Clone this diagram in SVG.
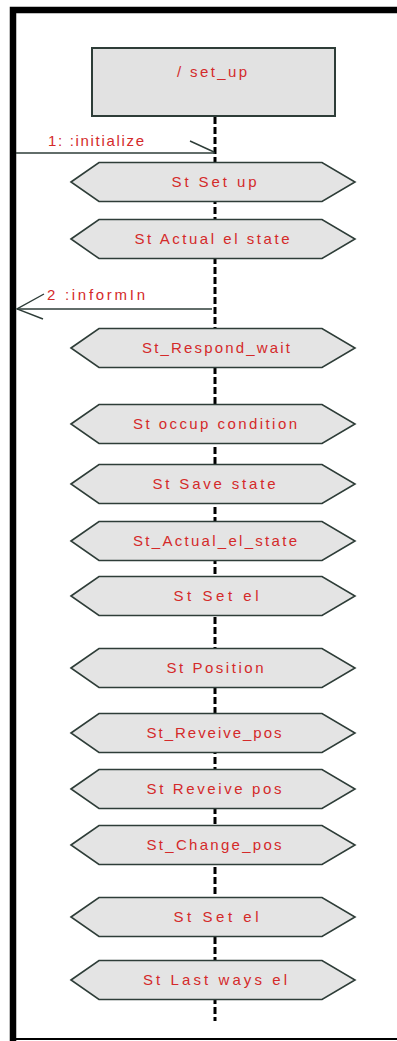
<svg xmlns="http://www.w3.org/2000/svg" width="397" height="1041" viewBox="0 0 397 1041">
  <style>
    .frame { fill: none; stroke: #000; }
    .box { fill: #e2e2e2; stroke: #2e3d38; stroke-width: 2; }
    .hex { fill: #e4e4e4; stroke: #2e3d38; stroke-width: 1.6; }
    .lbl { font-family: "Liberation Sans", Arial, sans-serif; font-size: 15px; fill: #d42a2a; text-anchor: middle; }
    .msg { font-family: "Liberation Sans", Arial, sans-serif; font-size: 15px; fill: #d42a2a; }
    .life { stroke: #000; stroke-width: 3; stroke-dasharray: 7 3; fill: none; }
    .line { stroke: #2e3d38; stroke-width: 1.4; fill: none; }
  </style>
  <defs>
    <polygon id="hexShape" points="-143,0 -115,-19.5 108,-19.5 141,0 108,19.5 -115,19.5"/>
  </defs>

  <rect width="397" height="1041" fill="#fff"/>

  <!-- outer frame -->
  <g id="frame">
    <path class="frame" d="M397,10 H13 V1041" stroke-width="6.5"/>
    <line class="frame" x1="10" y1="1039" x2="397" y2="1039" stroke-width="2"/>
  </g>

  <!-- lifeline and messages -->
  <g id="connectors">
    <line class="life" x1="215" y1="117" x2="215" y2="1021"/>
    <!-- 1: initialize -->
    <line class="line" x1="16" y1="153" x2="215" y2="153"/>
    <line class="line" x1="190" y1="141" x2="214" y2="152"/>
    <text class="msg" x="48" y="146" textLength="96" lengthAdjust="spacing">1:  :initialize</text>
    <!-- 2: informIn -->
    <line class="line" x1="212" y1="309" x2="17" y2="309"/>
    <polyline class="line" points="44,294 17,309 43,319"/>
    <text class="msg" x="47" y="300" textLength="98" lengthAdjust="spacing">2  :informIn</text>
  </g>

  <g id="setup_object">
    <rect class="box" x="92" y="48" width="243" height="68"/>
    <text class="lbl" x="212" y="77" textLength="70" lengthAdjust="spacing">/ set_up</text>
  </g>

  <g id="st_set_up" transform="translate(214,182)">
    <use href="#hexShape" class="hex"/>
    <text class="lbl" x="0" y="5" textLength="85" lengthAdjust="spacing">St Set up</text>
  </g>
  <g id="st_actual_el_state_1" transform="translate(214,239)">
    <use href="#hexShape" class="hex"/>
    <text class="lbl" x="-2" y="5" textLength="155" lengthAdjust="spacing">St Actual el state</text>
  </g>
  <g id="st_respond_wait" transform="translate(214,348)">
    <use href="#hexShape" class="hex"/>
    <text class="lbl" x="2" y="5" textLength="148" lengthAdjust="spacing">St_Respond_wait</text>
  </g>
  <g id="st_occup_condition" transform="translate(214,424)">
    <use href="#hexShape" class="hex"/>
    <text class="lbl" x="1" y="5" textLength="164" lengthAdjust="spacing">St occup condition</text>
  </g>
  <g id="st_save_state" transform="translate(214,484)">
    <use href="#hexShape" class="hex"/>
    <text class="lbl" x="0" y="5" textLength="123" lengthAdjust="spacing">St Save state</text>
  </g>
  <g id="st_actual_el_state_2" transform="translate(214,541)">
    <use href="#hexShape" class="hex"/>
    <text class="lbl" x="1" y="5" textLength="164" lengthAdjust="spacing">St_Actual_el_state</text>
  </g>
  <g id="st_set_el_1" transform="translate(214,596)">
    <use href="#hexShape" class="hex"/>
    <text class="lbl" x="2" y="5" textLength="85" lengthAdjust="spacing">St Set el</text>
  </g>
  <g id="st_position" transform="translate(214,668)">
    <use href="#hexShape" class="hex"/>
    <text class="lbl" x="1" y="5" textLength="97" lengthAdjust="spacing">St Position</text>
  </g>
  <g id="st_reveive_pos_1" transform="translate(214,733)">
    <use href="#hexShape" class="hex"/>
    <text class="lbl" x="0" y="5" textLength="135" lengthAdjust="spacing">St_Reveive_pos</text>
  </g>
  <g id="st_reveive_pos_2" transform="translate(214,789)">
    <use href="#hexShape" class="hex"/>
    <text class="lbl" x="0" y="5" textLength="135" lengthAdjust="spacing">St Reveive pos</text>
  </g>
  <g id="st_change_pos" transform="translate(214,845)">
    <use href="#hexShape" class="hex"/>
    <text class="lbl" x="0" y="5" textLength="135" lengthAdjust="spacing">St_Change_pos</text>
  </g>
  <g id="st_set_el_2" transform="translate(214,917)">
    <use href="#hexShape" class="hex"/>
    <text class="lbl" x="2" y="5" textLength="85" lengthAdjust="spacing">St Set el</text>
  </g>
  <g id="st_last_ways_el" transform="translate(214,980)">
    <use href="#hexShape" class="hex"/>
    <text class="lbl" x="1" y="5" textLength="144" lengthAdjust="spacing">St Last ways el</text>
  </g>
</svg>
